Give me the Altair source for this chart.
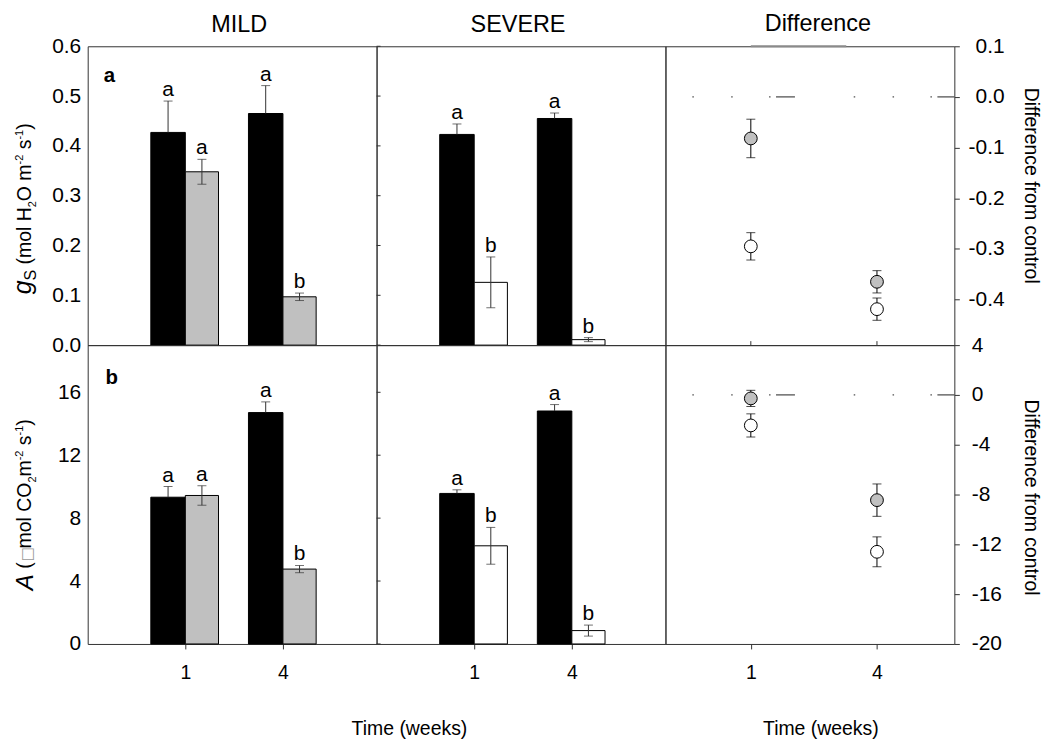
import altair as alt
import pandas as pd

# ---------------- data ----------------
weeks = [1, 4]

gs_mild_ctrl = [0.427, 0.465]
gs_mild_ctrl_se = [0.063, 0.056]
gs_mild = [0.348, 0.097]
gs_mild_se = [0.025, 0.0075]
gs_sev_ctrl = [0.423, 0.455]
gs_sev_ctrl_se = [0.021, 0.011]
gs_sev = [0.126, 0.011]
gs_sev_se = [0.051, 0.004]
gs_diff_mild = [-0.082, -0.365]
gs_diff_mild_se = [0.038, 0.022]
gs_diff_sev = [-0.295, -0.419]
gs_diff_sev_se = [0.027, 0.022]

A_mild_ctrl = [9.33, 14.71]
A_mild_ctrl_se = [0.68, 0.68]
A_mild = [9.44, 4.76]
A_mild_se = [0.62, 0.23]
A_sev_ctrl = [9.57, 14.81]
A_sev_ctrl_se = [0.23, 0.41]
A_sev = [6.24, 0.85]
A_sev_se = [1.17, 0.35]
A_diff_mild = [-0.28, -8.45]
A_diff_mild_se = [0.65, 1.3]
A_diff_sev = [-2.45, -12.6]
A_diff_sev_se = [0.93, 1.2]

let_ctrl = ["a", "a"]
let_mild = ["a", "b"]
let_sev = ["b", "b"]

gs_ticks = [0.0, 0.1, 0.2, 0.3, 0.4, 0.5, 0.6]
A_ticks = [0, 4, 8, 12, 16]
gs_diff_ticks = [0.1, 0.0, -0.1, -0.2, -0.3, -0.4]
A_diff_ticks = [4, 0, -4, -8, -12, -16, -20]

# grey stroke lying on the top frame of the gs difference panel (weeks)
top_frame_seg = [1.0, 3.27]

col_titles = ["MILD", "SEVERE", "Difference"]
x_title = "Time (weeks)"
diff_title = "Difference from control"

# ---------------- style ----------------
FONT = "Liberation Sans"
GRAY = "#c0c0c0"
EC = "#333333"
W, H = 290, 300
BAR_X = [-2.0, 6.877]
DIFF_X = [-1.03, 5.84]
BL, BR = 1.06, 1.02
LBL = 21
HYPHEN = "replace(datum.label, '\u2212', '-')"


def x_axis():
    return alt.Axis(values=weeks, format="d", tickSize=5, tickColor=EC, domain=False,
                    grid=False, labelFontSize=19.5, labelPadding=15, labelFont=FONT,
                    labelColor="black", labelFlush=False, labelOverlap=False, title=None)


def y_left(ticks, fmt):
    return alt.Axis(values=ticks, format=fmt, ticks=False, domain=False, grid=False,
                    labelPadding=7, labelFontSize=LBL, labelFont=FONT, labelColor="black",
                    labelFlush=False, labelOverlap=False, title=None)


def y_right(ticks, fmt, align, pad):
    return alt.Axis(orient="right", values=ticks, format=fmt, tickSize=5, tickColor=EC,
                    domain=False, grid=False, labelAlign=align, labelPadding=pad,
                    labelFontSize=LBL, labelFont=FONT, labelColor="black",
                    labelFlush=False, labelOverlap=False, title=None, labelExpr=HYPHEN)


def txt(text, x, y, **kw):
    return alt.Chart(pd.DataFrame({"t": [text]})).mark_text(font=FONT, color="black", **kw).encode(
        x=alt.value(x), y=alt.value(y), text="t:N")


AW = {" ": .278, "(": .333, ")": .333, "m": .833, "o": .556, "l": .222, "H": .722,
      "O": .778, "s": .5, "2": .556, "1": .556, "-": .333, "g": .556, "S": .667,
      "A": .667, "C": .722}


def rot_title(pieces, bx, by):
    out = []
    pos = 0.0
    for text, fs, style, shift, color, font, adv, pre in pieces:
        lead = len(text) - len(text.lstrip(" "))
        pos += lead * AW[" "] * fs + pre
        t = text.strip(" ")
        out.append(alt.Chart(pd.DataFrame({"t": [t]})).mark_text(
            angle=270, align="left", baseline="alphabetic", fontSize=fs, fontStyle=style,
            font=font, color=color).encode(x=alt.value(bx + shift), y=alt.value(by - pos), text="t:N"))
        pos += adv if adv else sum(AW.get(c, .556) for c in t) * fs
    return out


MAIN, SUB = 19.5, 11
gs_title = [
    ("g", 25, "italic", 0, "black", FONT, None, 0),
    ("S", 16, "normal", 5, "black", FONT, None, 0),
    (" (mol H", MAIN, "normal", 0, "black", FONT, None, 0),
    ("2", SUB, "normal", 5, "black", FONT, None, 0),
    ("O m", MAIN, "normal", 0, "black", FONT, None, 0),
    ("-2", SUB, "normal", -8, "black", FONT, None, 0),
    (" s", MAIN, "normal", 0, "black", FONT, None, 0),
    ("-1", SUB, "normal", -8, "black", FONT, None, 0),
    (")", MAIN, "normal", 0, "black", FONT, None, 0),
]
A_title = [
    ("A", 24, "italic", 2, "black", FONT, None, 0),
    (" (", MAIN, "normal", 0, "black", FONT, None, 0),
    ("\u25a1", 15, "normal", 1, "#999999", "DejaVu Sans", 13, 1),
    ("mol CO", MAIN, "normal", 0, "black", FONT, None, 0),
    ("2", SUB, "normal", 5, "black", FONT, None, 0),
    ("m", MAIN, "normal", 0, "black", FONT, None, 0),
    ("-2", SUB, "normal", -8, "black", FONT, None, 0),
    (" s", MAIN, "normal", 0, "black", FONT, None, 0),
    ("-1", SUB, "normal", -8, "black", FONT, None, 0),
    (")", MAIN, "normal", 0, "black", FONT, None, 0),
]


def bar_panel(ctrl, ctrl_se, trt, trt_se, lab_t, fill, ydom, yticks, yfmt,
              left, bottom, extras):
    xs = alt.Scale(domain=BAR_X, nice=False, zero=False)
    ys = alt.Scale(domain=ydom, nice=False, zero=False)
    xax = x_axis() if bottom else None
    yax = y_left(yticks, yfmt) if left else None

    def X(f):
        return alt.X(f"{f}:Q", scale=xs, axis=xax)

    def Y(f):
        return alt.Y(f"{f}:Q", scale=ys, axis=yax)

    dc = pd.DataFrame({
        "x0": [w - BL for w in weeks], "x1": weeks, "xm": [w - BL / 2 for w in weeks],
        "v": ctrl, "base": [0, 0], "top": [v + e for v, e in zip(ctrl, ctrl_se)],
        "lab": let_ctrl})
    dt = pd.DataFrame({
        "x0": weeks, "x1": [w + BR for w in weeks], "xm": [w + BR / 2 for w in weeks],
        "v": trt, "base": [0, 0], "lo": [v - e for v, e in zip(trt, trt_se)],
        "top": [v + e for v, e in zip(trt, trt_se)], "lab": lab_t})
    cap = dict(orient="horizontal", size=9, thickness=1, color=EC)
    layers = [
        alt.Chart(dc).mark_bar(color="black", stroke="black", strokeWidth=1).encode(
            x=X("x0"), x2="x1", y=Y("v"), y2="base"),
        alt.Chart(dt).mark_bar(color=fill, stroke="black", strokeWidth=1).encode(
            x=X("x0"), x2="x1", y=Y("v"), y2="base"),
        alt.Chart(dc).mark_rule(color=EC).encode(x=X("xm"), y=Y("v"), y2="top"),
        alt.Chart(dc).mark_tick(**cap).encode(x=X("xm"), y=Y("top")),
        alt.Chart(dt).mark_rule(color=EC).encode(x=X("xm"), y=Y("lo"), y2="top"),
        alt.Chart(dt).mark_tick(**cap).encode(x=X("xm"), y=Y("lo")),
        alt.Chart(dt).mark_tick(**cap).encode(x=X("xm"), y=Y("top")),
        alt.Chart(dc).mark_text(dy=-5, baseline="alphabetic", fontSize=21, font=FONT,
                                color="black").encode(x=X("xm"), y=Y("top"), text="lab:N"),
        alt.Chart(dt).mark_text(dy=-5, baseline="alphabetic", fontSize=21, font=FONT,
                                color="black").encode(x=X("xm"), y=Y("top"), text="lab:N"),
    ]
    if left:
        layers.append(alt.Chart(pd.DataFrame({"t": yticks})).mark_rule(color=EC).encode(
            y=Y("t"), x=alt.value(W), x2=alt.value(W + 4)))
    return alt.layer(*layers, *extras).properties(width=W, height=H)


def diff_panel(mild, mild_se, sev, sev_se, ydom, yticks, yfmt, align, pad, bottom, extras,
               seg=None):
    xs = alt.Scale(domain=DIFF_X, nice=False, zero=False)
    ys = alt.Scale(domain=ydom, nice=False, zero=False)
    xax = x_axis() if bottom else None
    yax = y_right(yticks, yfmt, align, pad)

    def X(f):
        return alt.X(f"{f}:Q", scale=xs, axis=xax)

    def Y(f):
        return alt.Y(f"{f}:Q", scale=ys, axis=yax)

    vals = mild + sev
    ses = mild_se + sev_se
    d = pd.DataFrame({
        "week": weeks + weeks, "v": vals,
        "lo": [v - e for v, e in zip(vals, ses)], "hi": [v + e for v, e in zip(vals, ses)],
        "grp": ["mild", "mild", "severe", "severe"]})
    cap = dict(orient="horizontal", size=9, thickness=1, color="black")
    layers = [
        alt.Chart(pd.DataFrame({"z": [0]})).mark_rule(
            color="#222222", strokeWidth=1,
            strokeDash=[1.5, 37.5, 1.5, 36.5, 1.5, 5.5, 19, 59], strokeDashOffset=135).encode(
            y=Y("z"), x=alt.value(0), x2=alt.value(W)),
        alt.Chart(d).mark_rule(color="black").encode(x=X("week"), y=Y("lo"), y2="hi"),
        alt.Chart(d).mark_tick(**cap).encode(x=X("week"), y=Y("lo")),
        alt.Chart(d).mark_tick(**cap).encode(x=X("week"), y=Y("hi")),
        alt.Chart(d).mark_circle(size=165, stroke="black", strokeWidth=1, opacity=1).encode(
            x=X("week"), y=Y("v"),
            fill=alt.Fill("grp:N", scale=alt.Scale(domain=["mild", "severe"],
                                                  range=[GRAY, "white"]), legend=None)),
    ]
    if seg is not None:
        layers.append(alt.Chart(pd.DataFrame({"a": [seg[0]], "b": [seg[1]]})).mark_rule(
            color="#8a8a8a", strokeWidth=2).encode(x=X("a"), x2="b", y=alt.value(0)))
    if bottom:
        layers.append(alt.Chart(pd.DataFrame({"w": weeks})).mark_rule(color=EC).encode(
            x=X("w"), y=alt.value(-4), y2=alt.value(0)))
    return alt.layer(*layers, *extras).properties(width=W, height=H)


anchor = alt.Chart(pd.DataFrame({"a": [0]})).mark_rule(opacity=0, strokeWidth=0).encode(
    x=alt.value(-79), x2=alt.value(-79), y=alt.value(-36), y2=alt.value(-36))

TFS = 23.5
p11 = bar_panel(gs_mild_ctrl, gs_mild_ctrl_se, gs_mild, gs_mild_se, let_mild, GRAY,
                [0, 0.6], gs_ticks, ".1f", True, False,
                [anchor,
                 txt(col_titles[0], 152, -21, fontSize=TFS, align="center", baseline="middle"),
                 txt("a", 16, 36, fontSize=20.5, fontWeight="bold", align="left", baseline="alphabetic"),
                 *rot_title(gs_title, -57, 249)])
p12 = bar_panel(gs_sev_ctrl, gs_sev_ctrl_se, gs_sev, gs_sev_se, let_sev, "white",
                [0, 0.6], gs_ticks, ".1f", False, False,
                [txt(col_titles[1], 142, -21, fontSize=TFS, align="center", baseline="middle")])
p13 = diff_panel(gs_diff_mild, gs_diff_mild_se, gs_diff_sev, gs_diff_sev_se,
                 [-0.49, 0.1], gs_diff_ticks, ".1f", "right", 45, False,
                 [txt(col_titles[2], 153, -22, fontSize=TFS, align="center", baseline="middle"),
                  txt(diff_title, 367, 140, fontSize=19.5, angle=90, align="center", baseline="middle")],
                 seg=top_frame_seg)
p21 = bar_panel(A_mild_ctrl, A_mild_ctrl_se, A_mild, A_mild_se, let_mild, GRAY,
                [0, 19], A_ticks, "d", True, True,
                [txt("b", 18, 39, fontSize=20.5, fontWeight="bold", align="left", baseline="alphabetic"),
                 *rot_title(A_title, -57, 246)])
p22 = bar_panel(A_sev_ctrl, A_sev_ctrl_se, A_sev, A_sev_se, let_sev, "white",
                [0, 19], A_ticks, "d", False, True,
                [txt(x_title, 33, 385, fontSize=19.5, align="center", baseline="middle")])
p23 = diff_panel(A_diff_mild, A_diff_mild_se, A_diff_sev, A_diff_sev_se,
                 [-20, 4], A_diff_ticks, "d", "left", 12, True,
                 [txt(x_title, 156, 385, fontSize=19.5, align="center", baseline="middle"),
                  txt(diff_title, 367, 153, fontSize=19.5, angle=90, align="center", baseline="middle")])

chart = alt.concat(p11, p12, p13, p21, p22, p23, columns=3, spacing=0, bounds="flush").configure_view(
    stroke="#333333", strokeWidth=1).properties(
    padding={"left": 0, "top": 0, "right": 0, "bottom": 0})

chart.save("out.html", embed_options={"renderer": "svg", "actions": False})
